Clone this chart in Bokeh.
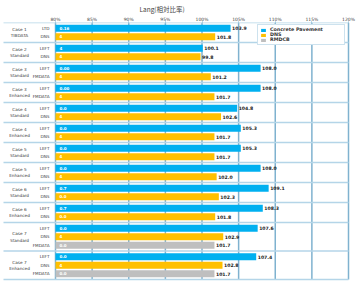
from bokeh.plotting import figure
from bokeh.models import Range1d, FixedTicker, PrintfTickFormatter, ColumnDataSource, Legend, LegendItem
from bokeh.core.properties import value
from bokeh.embed import file_html
from bokeh.resources import INLINE

# ---------------- data ----------------
title_text = "Lang(相対比率)"
group_names = [
    "Case 1\nTIBDATA", "Case 2\nStandard", "Case 3\nStandard", "Case 3\nEnhanced",
    "Case 4\nStandard", "Case 4\nEnhanced", "Case 5\nStandard", "Case 5\nEnhanced",
    "Case 6\nStandard", "Case 6\nEnhanced", "Case 7\nStandard", "Case 7\nEnhanced",
]
row_labels = [
    ["LTD", "DNS"], ["LEFT", "DNS"], ["LEFT", "FMDATA"], ["LEFT", "FMDATA"],
    ["LEFT", "DNS"], ["LEFT", "DNS"], ["LEFT", "DNS"], ["LEFT", "DNS"],
    ["LEFT", "DNS"], ["LEFT", "DNS"], ["LEFT", "DNS", "FMDATA"], ["LEFT", "DNS", "FMDATA"],
]
series_names = ["Concrete Pavement", "DNS", "RMDCB"]
blue_vals = [103.9, 100.1, 108.0, 108.0, 104.8, 105.3, 105.3, 108.0, 109.1, 108.3, 107.6, 107.4]
yellow_vals = [101.8, 99.8, 101.2, 101.7, 102.6, 101.7, 101.7, 102.0, 102.3, 101.8, 102.9, 102.8]
gray_vals = [None, None, None, None, None, None, None, None, None, None, 101.7, 101.7]
blue_inner = ["0.16", "4", "0.00", "0.00", "0.0", "0.0", "0.0", "0.0", "0.7", "0.7", "0.0", "0.0"]
yellow_inner = ["4", "4", "4", "4", "4", "4", "4", "4", "0.0", "0.0", "4", "4"]
gray_inner = ["", "", "", "", "", "", "", "", "", "", "0.0", "0.0"]
x_ticks = [80, 85, 90, 95, 100, 105, 110, 115, 120]

# ---------------- layout helpers ----------------
W, H, TOP = 360, 290, 22
X0_PX, X1_PX = 55, 348
BASE, TOPV = x_ticks[0], x_ticks[-1]
ppu = (X1_PX - X0_PX) / (TOPV - BASE)
def px2x(px):
    return BASE + (px - X0_PX) / ppu

PITCH, PAD, BAR_H = 8.5, 3.0, 7.0
colors = ["#00b0f0", "#ffc000", "#bfbfbf"]

bars = {0: dict(y=[], v=[], t=[], inner=[]), 1: dict(y=[], v=[], t=[], inner=[]), 2: dict(y=[], v=[], t=[], inner=[])}
rl_y, rl_t, g_y, g_t, seps = [], [], [], [], [0.0]
y0 = 0.0
for gi, gname in enumerate(group_names):
    vals = [blue_vals[gi], yellow_vals[gi], gray_vals[gi]]
    inners = [blue_inner[gi], yellow_inner[gi], gray_inner[gi]]
    n = len(row_labels[gi])
    for ri in range(n):
        yc = y0 + PAD / 2 + PITCH / 2 + ri * PITCH
        bars[ri]["y"].append(yc)
        bars[ri]["v"].append(vals[ri])
        bars[ri]["t"].append("%.1f" % vals[ri])
        bars[ri]["inner"].append(inners[ri])
        rl_y.append(yc)
        rl_t.append(row_labels[gi][ri])
    gh = n * PITCH + PAD
    g_y.append(y0 + gh / 2)
    g_t.append(gname)
    y0 += gh
    seps.append(y0)

p = figure(width=W, height=H, output_backend="svg", toolbar_location=None,
           x_range=Range1d(px2x(0), px2x(W)), y_range=Range1d(H - TOP, 0),
           x_axis_location="above", y_axis_location=None,
           min_border_left=0, min_border_right=0, min_border_bottom=0, min_border_top=TOP,
           outline_line_color=None, title=title_text)
p.xgrid.visible = False
p.ygrid.visible = False
p.background_fill_color = "white"

p.title.text_font = "Noto Sans CJK JP"
p.title.text_font_size = "6.5px"
p.title.text_font_style = "normal"
p.title.text_color = "#404040"
p.title.align = "left"
p.title.offset = 139
p.title.standoff = 0

ax = p.xaxis[0]
ax.ticker = FixedTicker(ticks=x_ticks)
ax.formatter = PrintfTickFormatter(format="%d%%")
ax.major_label_text_font_size = "4.5px"
ax.major_label_text_font = "DejaVu Sans"
ax.major_label_text_color = "#404040"
ax.axis_line_color = None
ax.major_tick_line_color = "#7fb2cf"
ax.major_tick_out = 1
ax.major_tick_in = 0
ax.minor_tick_line_color = None
ax.major_label_standoff = 0

ymax = seps[-1]
# vertical grid lines
p.segment(x0=x_ticks, x1=x_ticks, y0=[0] * len(x_ticks), y1=[ymax] * len(x_ticks),
          line_color="#7fb2cf", line_width=1.5)
# group separators
p.segment(x0=[px2x(3)] * len(seps), x1=[px2x(X1_PX)] * len(seps), y0=seps, y1=seps,
          line_color="#b4d5e8", line_width=1.5)

renderers = []
for si in range(3):
    d = bars[si]
    src = ColumnDataSource(dict(y=d["y"], right=d["v"], t=d["t"], inner=d["inner"],
                                left=[BASE] * len(d["y"])))
    r = p.hbar(y="y", left="left", right="right", height=BAR_H, source=src,
               fill_color=colors[si], line_color=None)
    renderers.append(r)
    p.text(x="right", y="y", text="t", source=src, x_offset=1.5,
           text_font=value("DejaVu Sans"), text_font_size="4.6px", text_font_style="bold",
           text_color="#222222", text_baseline="middle", text_align="left")
    p.text(x="left", y="y", text="inner", source=src, x_offset=4,
           text_font=value("DejaVu Sans"), text_font_size="4px", text_font_style="bold",
           text_color="white", text_baseline="middle", text_align="left")

# row labels and group labels
p.text(x=[px2x(49)] * len(rl_y), y=rl_y, text=rl_t,
       text_font=value("DejaVu Sans"), text_font_size="4.2px",
       text_color="#404040", text_baseline="middle", text_align="right")
p.text(x=[px2x(19)] * len(g_y), y=g_y, text=g_t,
       text_font=value("DejaVu Sans"), text_font_size="4.2px", text_line_height=1.3,
       text_color="#404040", text_baseline="middle", text_align="center")

legend = Legend(items=[LegendItem(label=series_names[i], renderers=[renderers[i]]) for i in range(3)],
                location=(257, H - 45))
legend.label_text_font = "DejaVu Sans"
legend.label_text_font_size = "4.8px"
legend.label_text_font_style = "bold"
legend.label_text_color = "#333333"
legend.glyph_width = 6
legend.glyph_height = 4
legend.label_height = 5
legend.label_standoff = 4
legend.spacing = 0
legend.padding = 2
legend.margin = 0
legend.label_width = 72
legend.border_line_color = "#9cc6dd"
legend.border_line_width = 1.5
legend.background_fill_color = "white"
legend.background_fill_alpha = 1
p.add_layout(legend, "center")

open("out.html", "w").write(file_html(p, INLINE))
